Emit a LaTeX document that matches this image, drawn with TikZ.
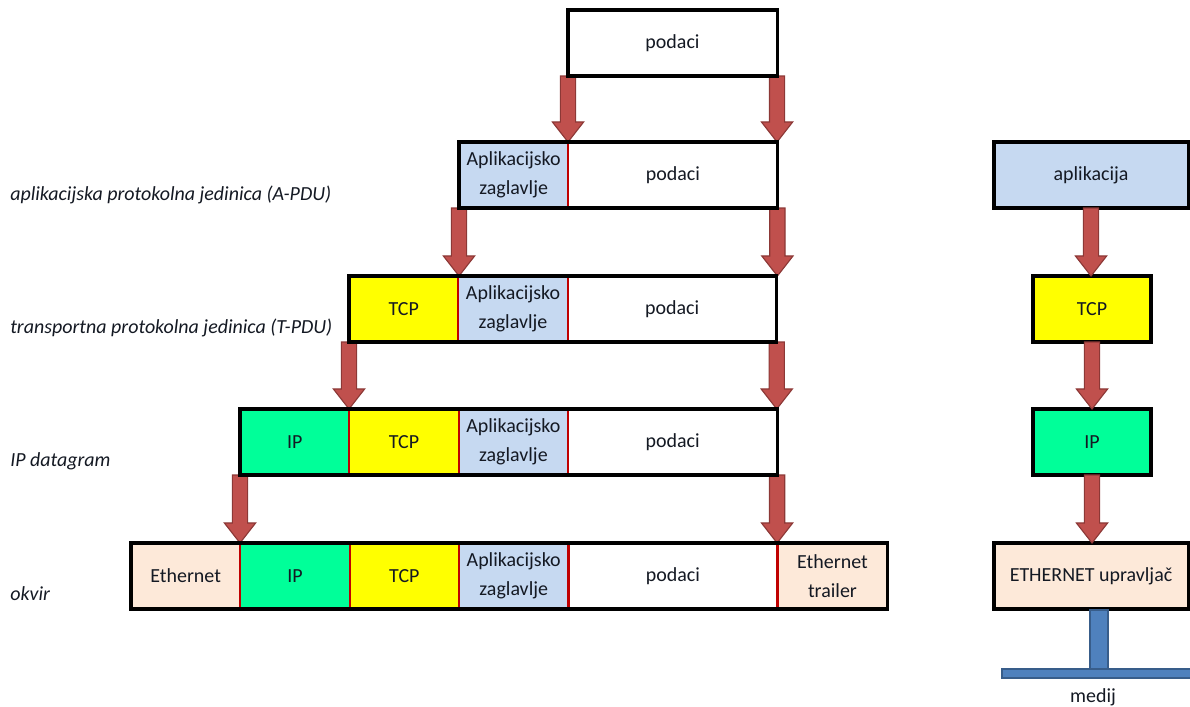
\documentclass[tikz,border=0pt]{standalone}
\usepackage{fontspec}
\setmainfont{Carlito}
\usetikzlibrary{positioning}
\usetikzlibrary{calc}
\definecolor{hblue}{RGB}{198,217,241}
\definecolor{hyellow}{RGB}{255,255,0}
\definecolor{hgreen}{RGB}{0,255,153}
\definecolor{hpeach}{RGB}{253,233,217}
\definecolor{hred}{RGB}{192,0,0}
\definecolor{afill}{RGB}{192,80,77}
\definecolor{aline}{RGB}{140,56,54}
\definecolor{mblue}{RGB}{79,129,189}
\definecolor{mline}{RGB}{56,93,138}
\definecolor{txt}{RGB}{20,25,35}

\tikzset{
  cell/.style={minimum width=2.733cm, minimum height=1.65cm, inner sep=0pt,
    outer sep=0pt, align=center, text=txt, font=\fontsize{14.2}{21}\selectfont},
  datacell/.style={cell, minimum width=5.225cm, fill=white},
  appcell/.style={cell, fill=hblue},
  tcpcell/.style={cell, fill=hyellow},
  ipcell/.style={cell, fill=hgreen},
  ethcell/.style={cell, fill=hpeach},
  layerbox/.style={cell, draw=black, line width=2.2pt},
  frame/.style={draw=black, line width=2.2pt},
  divider/.style={draw=hred, line width=1.6pt},
  fatarrow/.style={fill=afill, draw=aline, line width=0.8pt, line join=miter},
  medium/.style={fill=mblue, draw=mline, line width=0.8pt},
  pdulabel/.style={anchor=west, inner sep=0pt, text=txt,
    font=\fontsize{14.2}{18}\selectfont\itshape}
}

% thick block arrow, straight down from #1 to the height of #2
\newcommand{\fatarrow}[2]{%
  \draw[fatarrow] let \p1=(#1), \p2=(#2) in
    (\x1-0.19cm,\y1) -- (\x1-0.19cm,\y2+0.5cm) -- (\x1-0.39cm,\y2+0.5cm)
    -- (\x1,\y2) -- (\x1+0.39cm,\y2+0.5cm) -- (\x1+0.19cm,\y2+0.5cm)
    -- (\x1+0.19cm,\y1) -- cycle;}

\begin{document}
\begin{tikzpicture}[x=0.025cm, y=-0.025cm]
  \useasboundingbox (0,0) rectangle (1190,707);

  % encapsulation rows
  \node[datacell, anchor=north west] (p0) at (568,10) {podaci};

  \node[appcell, anchor=north west] (h1) at (459,142) {Aplikacijsko\\zaglavlje};
  \node[datacell, right=0pt of h1] (d1) {podaci};

  \node[tcpcell, anchor=north west] (t2) at (349,276) {TCP};
  \node[appcell, right=0pt of t2] (h2) {Aplikacijsko\\zaglavlje};
  \node[datacell, right=0pt of h2] (d2) {podaci};

  \node[ipcell, anchor=north west] (i3) at (240,409) {IP};
  \node[tcpcell, right=0pt of i3] (t3) {TCP};
  \node[appcell, right=0pt of t3] (h3) {Aplikacijsko\\zaglavlje};
  \node[datacell, right=0pt of h3] (d3) {podaci};

  \node[ethcell, anchor=north west] (e4) at (131,543) {Ethernet};
  \node[ipcell, right=0pt of e4] (i4) {IP};
  \node[tcpcell, right=0pt of i4] (t4) {TCP};
  \node[appcell, right=0pt of t4] (h4) {Aplikacijsko\\zaglavlje};
  \node[datacell, right=0pt of h4] (d4) {podaci};
  \node[ethcell, minimum width=2.75cm, right=0pt of d4] (r4) {Ethernet\\trailer};

  \foreach \c in {h1, t2, h2, i3, t3, h3, e4, i4, t4, h4, d4}
    \draw[divider] (\c.north east) -- (\c.south east);

  \foreach \a/\b in {p0.south west/d1.north west, p0.south east/d1.north east,
      h1.south west/t2.north east, d1.south east/d2.north east,
      t2.south west/i3.north east, d2.south east/d3.north east,
      i3.south west/e4.north east, d3.south east/d4.north east}
    \fatarrow{\a}{\b};

  \draw[frame] (p0.north west) rectangle (p0.south east);
  \draw[frame] (h1.north west) rectangle (d1.south east);
  \draw[frame] (t2.north west) rectangle (d2.south east);
  \draw[frame] (i3.north west) rectangle (d3.south east);
  \draw[frame] (e4.north west) rectangle (r4.south east);

  % row names
  \node[pdulabel] (la) at (10,195) {aplikacijska protokolna jedinica (A-PDU)};
  \node[pdulabel] (lt) at (10,328) {transportna protokolna jedinica (T-PDU)};
  \node[pdulabel] (li) at (10,461) {IP datagram};
  \node[pdulabel] (lo) at (10,594) {okvir};

  % protocol stack
  \node[layerbox, fill=hblue, minimum width=4.85cm, anchor=north west] (app) at (994,142) {aplikacija};
  \node[layerbox, fill=hyellow, minimum width=2.95cm, anchor=north west] (tcp) at (1033,276) {TCP};
  \node[layerbox, fill=hgreen, minimum width=2.95cm, anchor=north west] (ip) at (1033,409) {IP};
  \node[layerbox, fill=hpeach, minimum width=4.85cm, anchor=north west] (ctl) at (994,543) {ETHERNET upravljač};

  \fatarrow{app.south}{tcp.north};
  \fatarrow{tcp.south}{ip.north};
  \fatarrow{ip.south}{ctl.north};

  % medium
  \draw[medium] (1090,610) rectangle (1108,670);
  \draw[medium] (1002,669) rectangle (1192,678);
  \node[text=txt, font=\fontsize{14.2}{18}\selectfont] (med) at (1093,697) {medij};
\end{tikzpicture}
\end{document}
